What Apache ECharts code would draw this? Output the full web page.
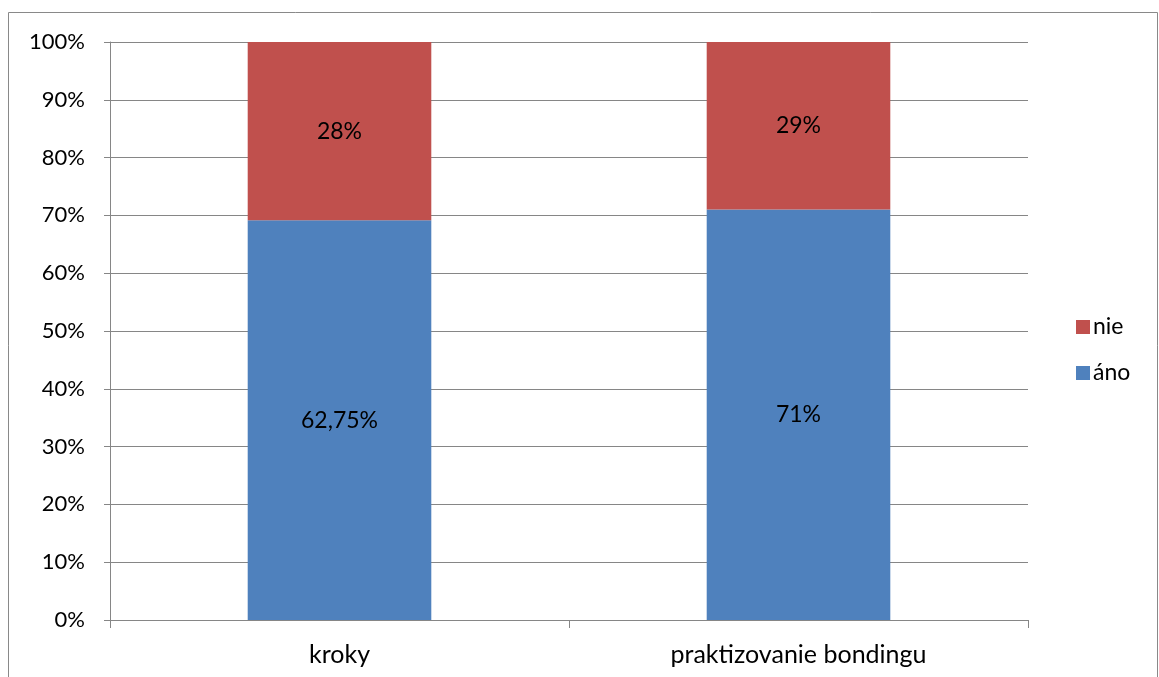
<!DOCTYPE html>
<html>
<head>
<meta charset="utf-8">
<script src="https://cdn.jsdelivr.net/npm/echarts@6/dist/echarts.min.js"></script>
<style>
  html, body { margin: 0; padding: 0; background: #fff; }
  #chart { width: 1159px; height: 677px; }
</style>
</head>
<body>
<div id="chart"></div>
<script>
// Categories and raw answer values (in %)
const categories = ['kroky', 'praktizovanie bondingu'];
const anoValues = [62.75, 71];
const nieValues = [28, 29];
const yTicks = [0, 10, 20, 30, 40, 50, 60, 70, 80, 90, 100];

// 100 % stacked shares built from the raw values
const totals = anoValues.map((v, i) => v + nieValues[i]);
const anoShare = anoValues.map((v, i) => v / totals[i] * 100);
const nieShare = nieValues.map((v, i) => v / totals[i] * 100);

const fmt = v => String(v).replace('.', ',') + '%';
const FONT = 'Lato';

const chart = echarts.init(document.getElementById('chart'), null, { renderer: 'canvas' });
chart.setOption({
  animation: false,
  textStyle: { fontFamily: FONT },
  graphic: [{
    type: 'rect',
    shape: { x: 8.5, y: 12.5, width: 1149, height: 680 },
    style: { fill: 'none', stroke: '#898989', lineWidth: 1 },
    silent: true
  }],
  grid: { left: 110, right: 131, top: 42, bottom: 57 },
  legend: {
    data: ['nie', 'áno'],
    orient: 'vertical',
    left: 1071,
    top: 310,
    itemWidth: 14,
    itemHeight: 14,
    itemGap: 22,
    icon: 'rect',
    textStyle: { fontFamily: FONT, fontSize: 23, lineHeight: 24, color: '#000', padding: [0, 0, 0, -2] }
  },
  xAxis: {
    type: 'category',
    data: categories,
    axisLine: { lineStyle: { color: '#868686' } },
    axisTick: { show: true, length: 8, lineStyle: { color: '#868686' } },
    axisLabel: { fontFamily: FONT, fontSize: 25, color: '#000', margin: 22 }
  },
  yAxis: {
    type: 'value',
    min: 0,
    max: 100,
    interval: 10,
    axisLine: { show: true, lineStyle: { color: '#868686' } },
    axisTick: { show: true, length: 6, lineStyle: { color: '#868686' } },
    splitLine: { lineStyle: { color: '#868686' } },
    axisLabel: {
      fontFamily: FONT, fontSize: 22, color: '#000', margin: 25,
      formatter: v => (yTicks.includes(v) ? v + '%' : '')
    }
  },
  series: [
    {
      name: 'áno',
      type: 'bar',
      stack: 'total',
      barWidth: '40%',
      data: anoShare,
      itemStyle: { color: '#4F81BD' },
      label: {
        show: true, position: 'inside', fontFamily: FONT, fontSize: 23, color: '#000',
        formatter: p => fmt(anoValues[p.dataIndex])
      }
    },
    {
      name: 'nie',
      type: 'bar',
      stack: 'total',
      barWidth: '40%',
      data: nieShare,
      itemStyle: { color: '#C0504D' },
      label: {
        show: true, position: 'inside', fontFamily: FONT, fontSize: 23, color: '#000',
        formatter: p => fmt(nieValues[p.dataIndex])
      }
    }
  ]
});
</script>
</body>
</html>
